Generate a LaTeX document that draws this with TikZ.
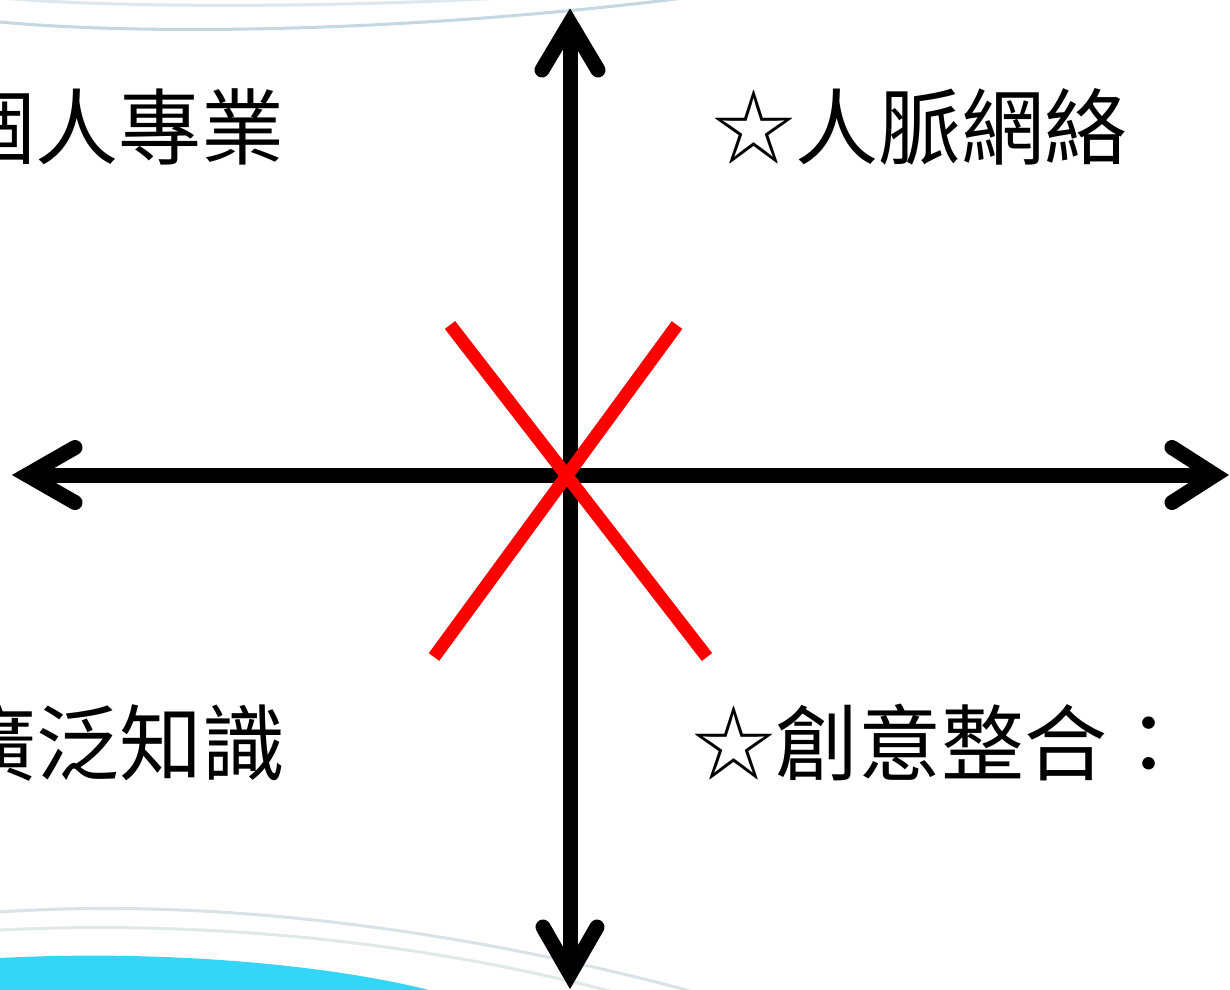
\documentclass[tikz,border=0pt]{standalone}
\usepackage{fontspec}
\usetikzlibrary{calc}
\newfontfamily\cjk{Noto Sans CJK TC}
\definecolor{arcblue}{HTML}{C4D8E2}
\definecolor{arcgray}{HTML}{D9E2E5}
\definecolor{cyanfill}{HTML}{34D5F6}
\begin{document}
\begin{tikzpicture}[x=1pt,y=-1pt,
  axis/.style={line width=15pt, black},
  head/.style={line width=15pt, black, line cap=round, line join=miter, miter limit=10},
  cross/.style={line width=13pt, red},
  txt/.style={font=\cjk\fontsize{83}{90}\selectfont, inner sep=0pt, text height=73pt, text depth=10pt},
  deco/.style={line width=3pt}]
\useasboundingbox (0,0) rectangle (1230,989);
\clip (0,0) rectangle (1230,989);
% background decoration
\fill[white] (0,0) rectangle (1230,989);
\draw[deco, arcblue!60] (0,-2) .. controls (120,8) and (330,8) .. (520,-3);
\draw[deco, arcblue] (0,22) .. controls (150,36) and (420,32) .. (700,-4);
\draw[deco, arcgray] (0,912) .. controls (200,898) and (450,925) .. (705,995);
\draw[deco, arcgray!80] (0,930) .. controls (200,920) and (420,940) .. (625,995);
\fill[cyanfill] (0,958) .. controls (150,950) and (330,962) .. (448,995) -- (0,995) -- cycle;
% axes
\coordinate (T) at (570,23);
\coordinate (B) at (570,974);
\coordinate (L) at (27,475);
\coordinate (R) at (1215,475);
\draw[axis] (L) -- (R);
\draw[axis] (T) -- (B);
\draw[head] ($(T)+(-28,47)$) -- (T) -- ($(T)+(28,47)$);
\draw[head] ($(B)+(-27,-47)$) -- (B) -- ($(B)+(27,-47)$);
\draw[head] ($(L)+(48,-27.5)$) -- (L) -- ($(L)+(48,27.5)$);
\draw[head] ($(R)+(-43,-27.5)$) -- (R) -- ($(R)+(-43,27.5)$);
% red cross
\coordinate (x1a) at (450,325);
\coordinate (x1b) at (707,657);
\coordinate (x2a) at (677,325);
\coordinate (x2b) at (434,657);
\draw[cross] (x1a) -- (x1b);
\draw[cross] (x2a) -- (x2b);
% labels
\node[txt, anchor=east] (pro) at (285,127) {個人專業};
\node[txt, anchor=west] (net) at (712,127) {☆人脈網絡};
\node[txt, anchor=east] (know) at (286,743) {廣泛知識};
\node[txt, anchor=west] (cre) at (692,743) {☆創意整合：};
\end{tikzpicture}
\end{document}
